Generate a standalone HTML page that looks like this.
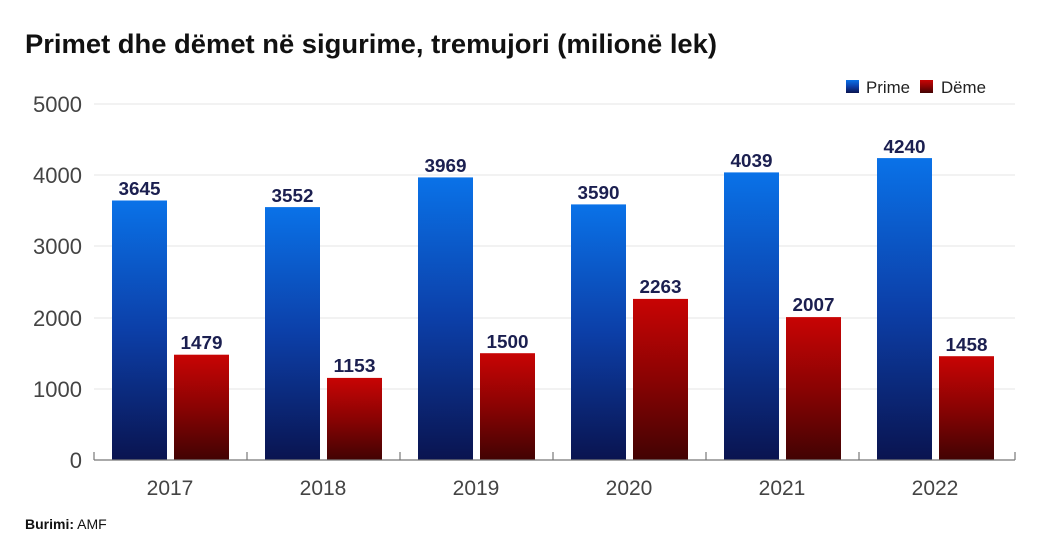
<!DOCTYPE html>
<html><head><meta charset="utf-8"><style>
html,body{margin:0;padding:0;background:#fff;}
svg{display:block;font-family:"Liberation Sans",Arial,sans-serif;}
</style></head><body>
<svg width="1054" height="550" viewBox="0 0 1054 550" xmlns="http://www.w3.org/2000/svg">
<defs>
<linearGradient id="gb" x1="0" y1="0" x2="0" y2="1"><stop offset="0" stop-color="#0a72e8"/><stop offset="0.5" stop-color="#0c3fa8"/><stop offset="1" stop-color="#0a1450"/></linearGradient>
<linearGradient id="gr" x1="0" y1="0" x2="0" y2="1"><stop offset="0" stop-color="#c80404"/><stop offset="0.5" stop-color="#8a0303"/><stop offset="1" stop-color="#420303"/></linearGradient>
</defs>
<rect width="1054" height="550" fill="#fff"/>
<text x="25" y="53" font-size="27" font-weight="bold" fill="#111" textLength="692" lengthAdjust="spacingAndGlyphs">Primet dhe dëmet në sigurime, tremujori (milionë lek)</text>
<g stroke="#e4e4e4" stroke-width="1">
<line x1="94" y1="104" x2="1015" y2="104"/><line x1="94" y1="175" x2="1015" y2="175"/><line x1="94" y1="246" x2="1015" y2="246"/><line x1="94" y1="318" x2="1015" y2="318"/><line x1="94" y1="389" x2="1015" y2="389"/>
</g>
<g font-size="22" fill="#444" text-anchor="end">
<text x="82" y="112">5000</text><text x="82" y="183">4000</text><text x="82" y="254">3000</text><text x="82" y="326">2000</text><text x="82" y="397">1000</text><text x="82" y="468">0</text>
</g>
<rect x="846" y="80" width="13" height="13" fill="url(#gb)"/>
<text x="866" y="93" font-size="17" fill="#222" textLength="44" lengthAdjust="spacingAndGlyphs">Prime</text>
<rect x="920" y="80" width="13" height="13" fill="url(#gr)"/>
<text x="941" y="93" font-size="17" fill="#222" textLength="45" lengthAdjust="spacingAndGlyphs">Dëme</text>
<g id="bars"></g>
<g>
<rect x="112" y="200.5" width="55" height="259.5" fill="url(#gb)"/><rect x="174" y="354.7" width="55" height="105.3" fill="url(#gr)"/>
<rect x="265" y="207.1" width="55" height="252.9" fill="url(#gb)"/><rect x="327" y="377.9" width="55" height="82.1" fill="url(#gr)"/>
<rect x="418" y="177.4" width="55" height="282.6" fill="url(#gb)"/><rect x="480" y="353.2" width="55" height="106.8" fill="url(#gr)"/>
<rect x="571" y="204.4" width="55" height="255.6" fill="url(#gb)"/><rect x="633" y="298.9" width="55" height="161.1" fill="url(#gr)"/>
<rect x="724" y="172.4" width="55" height="287.6" fill="url(#gb)"/><rect x="786" y="317.1" width="55" height="142.9" fill="url(#gr)"/>
<rect x="877" y="158.1" width="55" height="301.9" fill="url(#gb)"/><rect x="939" y="356.2" width="55" height="103.8" fill="url(#gr)"/>
</g>
<g font-size="18" font-weight="bold" fill="#1b1f50" text-anchor="middle">
<text x="139.5" y="195" textLength="42" lengthAdjust="spacingAndGlyphs">3645</text><text x="201.5" y="349" textLength="42" lengthAdjust="spacingAndGlyphs">1479</text>
<text x="292.5" y="202" textLength="42" lengthAdjust="spacingAndGlyphs">3552</text><text x="354.5" y="372" textLength="42" lengthAdjust="spacingAndGlyphs">1153</text>
<text x="445.5" y="172" textLength="42" lengthAdjust="spacingAndGlyphs">3969</text><text x="507.5" y="348" textLength="42" lengthAdjust="spacingAndGlyphs">1500</text>
<text x="598.5" y="199" textLength="42" lengthAdjust="spacingAndGlyphs">3590</text><text x="660.5" y="293" textLength="42" lengthAdjust="spacingAndGlyphs">2263</text>
<text x="751.5" y="167" textLength="42" lengthAdjust="spacingAndGlyphs">4039</text><text x="813.5" y="311" textLength="42" lengthAdjust="spacingAndGlyphs">2007</text>
<text x="904.5" y="153" textLength="42" lengthAdjust="spacingAndGlyphs">4240</text><text x="966.5" y="351" textLength="42" lengthAdjust="spacingAndGlyphs">1458</text>
</g>
<g stroke="#777" stroke-width="1.2">
<line x1="94" y1="460" x2="1015" y2="460"/>
<line x1="94" y1="452" x2="94" y2="460"/><line x1="247" y1="452" x2="247" y2="460"/><line x1="400" y1="452" x2="400" y2="460"/><line x1="553" y1="452" x2="553" y2="460"/><line x1="706" y1="452" x2="706" y2="460"/><line x1="859" y1="452" x2="859" y2="460"/><line x1="1015" y1="452" x2="1015" y2="460"/>
</g>
<g font-size="21" fill="#444" text-anchor="middle">
<text x="170" y="495">2017</text><text x="323" y="495">2018</text><text x="476" y="495">2019</text><text x="629" y="495">2020</text><text x="782" y="495">2021</text><text x="935" y="495">2022</text>
</g>
<text x="25" y="529" font-size="14" fill="#111"><tspan font-weight="bold">Burimi:</tspan> AMF</text>
</svg>
</body></html>
